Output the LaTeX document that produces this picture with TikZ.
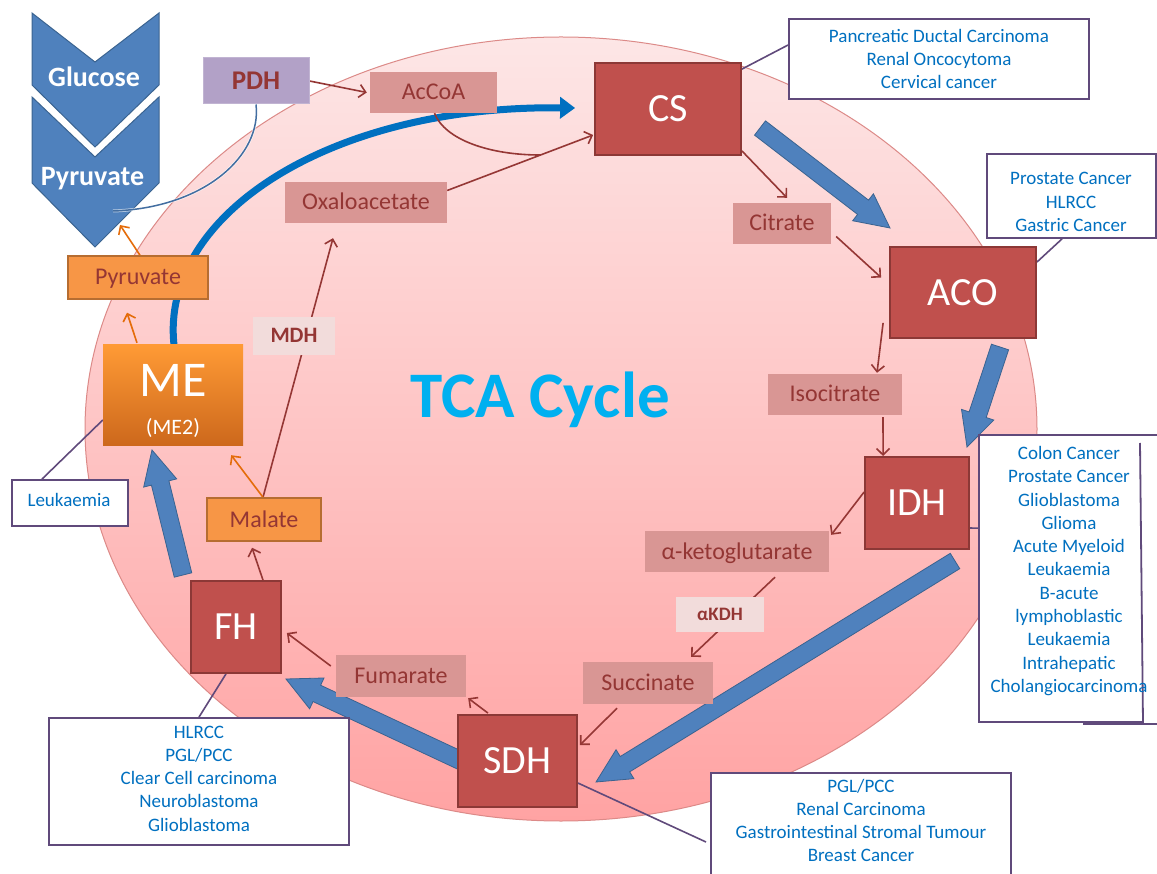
\documentclass[tikz,border=0pt]{standalone}
\usepackage{fontspec}
\setmainfont{Carlito}
\usetikzlibrary{calc,arrows.meta}
\pgfdeclarelayer{bg}\pgfdeclarelayer{lines}
\pgfsetlayers{bg,lines,main}
\definecolor{enzred}{HTML}{C0504D}
\definecolor{enzborder}{HTML}{8C3836}
\definecolor{metab}{HTML}{D99694}
\definecolor{metabtext}{HTML}{943634}
\definecolor{lightbox}{HTML}{F2DCDB}
\definecolor{orangefill}{HTML}{F79646}
\definecolor{orangeborder}{HTML}{B66D31}
\definecolor{orangearrow}{HTML}{E46C0A}
\definecolor{pdhfill}{HTML}{B2A1C7}
\definecolor{chevblue}{HTML}{4F81BD}
\definecolor{chevborder}{HTML}{3A6390}
\definecolor{cycleblue}{HTML}{0070C0}
\definecolor{tcablue}{HTML}{00B0F0}
\definecolor{calloutpurple}{HTML}{604A7B}
\definecolor{linered}{HTML}{953735}
\definecolor{ellTop}{HTML}{FDE6E6}
\definecolor{ellBot}{HTML}{FFA3A3}
\definecolor{ellBorder}{HTML}{DC8A88}
\definecolor{meTop}{HTML}{FF9A35}
\definecolor{meBot}{HTML}{CC681C}
\tikzset{
 enz/.style={draw=enzborder, line width=1.8pt, fill=enzred, text=white, font=\fontsize{40}{40}\selectfont, text height=25.5pt, text depth=0pt, inner sep=0pt},
 met/.style={fill=metab, text=metabtext, font=\fontsize{24}{24}\selectfont, text height=15pt, text depth=0pt, inner sep=0pt},
 orng/.style={fill=orangefill, draw=orangeborder, line width=1.5pt, text=metabtext, font=\fontsize{24}{24}\selectfont, text height=15pt, text depth=0pt, inner sep=0pt},
 lite/.style={fill=lightbox, text=metabtext, inner sep=0pt, text depth=0pt},
 pdhbox/.style={fill=pdhfill, draw=pdhfill!80!white, line width=1pt, text=metabtext, font=\bfseries\fontsize{27}{27}\selectfont, text height=17pt, text depth=0pt, inner sep=0pt},
 mebox/.style={top color=meTop, bottom color=meBot, draw=none, inner sep=0pt},
 callout/.style={draw=calloutpurple, line width=1.8pt, fill=white, inner sep=0pt},
 callouttext/.style={text=cycleblue, font=\fontsize{19}{23.3}\selectfont, align=center, inner sep=0pt},
 rline/.style={draw=linered, line width=1.6pt, -{Straight Barb[length=6.5pt,width=13pt]}},
 rplain/.style={draw=linered, line width=1.6pt},
 oline/.style={draw=orangearrow, line width=1.6pt, -{Straight Barb[length=6.5pt,width=13pt]}},
 pline/.style={draw=calloutpurple, line width=1.6pt},
 fatarrowstyle/.style={fill=chevblue, draw=chevborder, line width=0.8pt, line join=miter},
 chevron/.style={fill=chevblue, draw=chevborder, line width=1pt},
 chevtext/.style={text=white, font=\bfseries\fontsize{28}{28}\selectfont, text height=18pt, text depth=0pt, inner sep=0pt}
}
\newcommand\fatarrow[2]{%
 \coordinate (#1h) at ($(#2)!34pt!(#1)$);
 \filldraw[fatarrowstyle] ($(#1)!9pt!90:(#2)$) -- ($(#1h)!9pt!-90:(#1)$) -- ($(#1h)!17pt!-90:(#1)$) -- (#2) -- ($(#1h)!17pt!90:(#1)$) -- ($(#1h)!9pt!90:(#1)$) -- ($(#1)!9pt!-90:(#2)$) -- cycle;
}
\begin{document}
\begin{tikzpicture}[x=1pt,y=-1pt]
\useasboundingbox (0,0) rectangle (1157,874);
\clip (0,0) rectangle (1157,874);

\begin{pgfonlayer}{bg}
\path[top color=ellTop, bottom color=ellBot, draw=ellBorder, line width=1pt] (561,429) ellipse [x radius=476, y radius=392];
\filldraw[chevron] (32,13) -- (95,62) -- (159,13) -- (159,85) -- (95,147) -- (32,85) -- cycle;
\filldraw[chevron] (32,97) -- (95,157) -- (159,97) -- (159,183) -- (95,247) -- (32,183) -- cycle;
\end{pgfonlayer}

\node[chevtext] (glucose) at (94,77.5) {Glucose};
\node[chevtext] (pyrchev) at (92.5,176.5) {Pyruvate};
\coordinate (chevtip) at (120,225);
\coordinate (pdhend) at (113,211);

% enzymes
\node[enz, minimum width=146pt, minimum height=92pt] (cs) at (668,109) {CS};
\node[enz, minimum width=146pt, minimum height=91pt] (aco) at (963,292.5) {ACO};
\node[enz, minimum width=104pt, minimum height=92pt] (idh) at (917,503) {IDH};
\node[enz, minimum width=119pt, minimum height=92pt] (sdh) at (517.5,761) {SDH};
\node[enz, minimum width=90pt, minimum height=92pt] (fh) at (236,627) {FH};

% metabolites
\node[met, minimum width=127pt, minimum height=41pt] (accoa) at (433.5,92.5) {AcCoA};
\node[met, minimum width=98pt, minimum height=41pt] (citrate) at (782,223.5) {Citrate};
\node[met, minimum width=134pt, minimum height=41pt] (iso) at (835,394.5) {Isocitrate};
\node[met, minimum width=184pt, minimum height=41pt] (akg) at (737,551.5) {α-ketoglutarate};
\node[met, minimum width=130pt, minimum height=42pt] (succ) at (648,683) {Succinate};
\node[met, minimum width=130pt, minimum height=42pt] (fum) at (401,676) {Fumarate};
\node[met, minimum width=162pt, minimum height=41pt] (oxa) at (366,202.5) {Oxaloacetate};
\node[orng, minimum width=114pt, minimum height=43pt] (malate) at (264,519.5) {Malate};
\node[orng, minimum width=140pt, minimum height=43pt] (pyr) at (138,277.5) {Pyruvate};

\node[lite, minimum width=82pt, minimum height=38pt, font=\bfseries\fontsize{22}{22}\selectfont, text height=14pt] (mdh) at (294,336) {MDH};
\node[lite, minimum width=88pt, minimum height=35pt, font=\bfseries\fontsize{19}{19}\selectfont, text height=12pt] (akdh) at (720,614.5) {αKDH};

\node[pdhbox, minimum width=106pt, minimum height=46pt] (pdh) at (256,81) {PDH};

\node[mebox, minimum width=140pt, minimum height=101pt] (me) at (173,395.5) {};
\node[text=white, font=\fontsize{50}{50}\selectfont, inner sep=0pt, text height=32pt, text depth=0pt] (metitle) at (173,381) {ME};
\node[text=white, font=\fontsize{22}{22}\selectfont, inner sep=0pt] (mesub) at (173,428) {(ME2)};

\node[text=tcablue, font=\bfseries\fontsize{65}{65}\selectfont, inner sep=0pt, text height=41pt, text depth=0pt] (tca) at (540,397.5) {TCA Cycle};

% callouts
\node[callout, minimum width=300pt, minimum height=80pt] (box1) at (939,59) {};
\node[callouttext] (box1t) at (939,59) {Pancreatic Ductal Carcinoma\\Renal Oncocytoma\\Cervical cancer};
\node[callout, minimum width=169pt, minimum height=84pt] (box2) at (1071.5,196) {};
\node[callouttext] (box2t) at (1071,202) {Prostate Cancer\\HLRCC\\Gastric Cancer};
\node[fill=white, inner sep=0pt, minimum width=164pt, minimum height=287pt, anchor=north west] (box3) at (979,435) {};
\draw[pline, line width=1.8pt] (1157,435) -- (979,435) -- (979,722) -- (1143,722);
\draw[pline, line width=1.8pt] (1140,443) -- (1143,723);
\draw[pline, line width=1.8pt] (1083,724) -- (1157,724);
\node[callouttext] (box3t) at (1069,571) {Colon Cancer\\Prostate Cancer\\Glioblastoma\\Glioma\\Acute Myeloid\\Leukaemia\\B-acute\\lymphoblastic\\Leukaemia\\Intrahepatic\\Cholangiocarcinoma};
\node[callout, minimum width=116pt, minimum height=46pt] (leuk) at (70,503) {};
\node[callouttext] (leukt) at (69,499.5) {Leukaemia};
\node[callout, minimum width=300pt, minimum height=127pt] (box4) at (199,781.5) {};
\node[callouttext] (box4t) at (199,778.6) {HLRCC\\PGL/PCC\\Clear Cell carcinoma\\Neuroblastoma\\Glioblastoma};
\node[callout, minimum width=300pt, minimum height=130pt, anchor=north west] (box5) at (710,772) {};
\node[callouttext] (box5t) at (861,820.5) {PGL/PCC\\Renal Carcinoma\\Gastrointestinal Stromal Tumour\\Breast Cancer};

\begin{pgfonlayer}{lines}
% thick blue cycle arrow
\draw[cycleblue, line width=7pt, -{Triangle[length=15pt,width=21pt]}] ($(me.north)+(1,0)$) .. controls (160,215) and (330,105) .. ($(cs.west)+(-19,-1)$);
% fat arrows
\coordinate (f1s) at (760,128); \coordinate (f1e) at (890,228);
\coordinate (f2s) at (1000,347); \coordinate (f2e) at (967,447);
\coordinate (f3s) at (955,561); \coordinate (f3e) at (596,782);
\coordinate (f4s) at (470,765); \coordinate (f4e) at (286,679);
\coordinate (f5s) at (183,575); \coordinate (f5e) at (152,450);
\fatarrow{f1s}{f1e}
\fatarrow{f2s}{f2e}
\fatarrow{f3s}{f3e}
\fatarrow{f4s}{f4e}
\fatarrow{f5s}{f5e}
% red connectors
\coordinate (merge) at (540,155);
\draw[rline] (pdh.east) -- ($(accoa.west)+(-3,0)$);
\draw[rplain] ($(accoa.south)+(1,0)$) .. controls (445,140) and (490,155) .. (merge);
\draw[rline] ($(oxa.east)+(0,-12)$) -- ($(cs.west)+(-1,26)$);
\draw[rline] ($(cs.south east)+(0,-5)$) -- ($(citrate.north)+(5,-5)$);
\draw[rline] ($(citrate.east)+(5,13)$) -- ($(aco.west)+(-8,-15)$);
\draw[rline] ($(aco.south west)+(-6,-16)$) -- ($(iso.north)+(42,-1)$);
\draw[rline] ($(iso.south)+(48,2)$) -- ($(idh.north west)+(19,0)$);
\draw[rline] ($(idh.west)+(0,-11)$) -- ($(akg.north east)+(2,4)$);
\draw[rline] ($(akg.south)+(38,5)$) -- ($(succ.north)+(43,-5)$);
\draw[rline] ($(succ.south)+(-31,4)$) -- ($(sdh.east)+(2,-16)$);
\draw[rline] ($(sdh.north)+(-29.5,-1)$) -- ($(fum.south east)+(2,1)$);
\draw[rline] ($(fum.west)+(-5,-10)$) -- ($(fh.east)+(5,6)$);
\draw[rline] ($(fh.north)+(27,0)$) -- ($(malate.south)+(-12,6)$);
\draw[rline] ($(malate.north)+(-1,0)$) -- ($(oxa.south)+(-33,15)$);
% orange connectors
\draw[oline] ($(malate.north)+(-1,0)$) -- ($(me.south east)+(-12,9)$);
\draw[oline] ($(me.north)+(-36,-2)$) -- ($(pyr.south)+(-11,13)$);
\draw[oline] ($(pyr.north)+(2,0)$) -- (chevtip);
% PDH curve
\draw[white, opacity=0.6, line width=3pt] (pdh.south) .. controls (262,155) and (205,208) .. (pdhend);
\draw[chevblue!85!black, line width=1.5pt] (pdh.south) .. controls (262,155) and (205,208) .. (pdhend);
% callout connectors
\draw[pline] ($(cs.north east)+(0,7)$) -- ($(box1.west)+(0,-14)$);
\draw[pline] ($(aco.north east)+(0,16)$) -- ($(box2.south)+(-9.5,0)$);
\draw[pline] ($(idh.east)+(0,25)$) -- ($(box3.west)+(0,-50.5)$);
\draw[pline] ($(me.west)+(0,24.5)$) -- ($(leuk.north)+(-28,0)$);
\draw[pline] ($(fh.south)+(-10,0)$) -- (box4.north);
\draw[pline] ($(sdh.east)+(0,22)$) -- ($(box5.north west)+(-4,70)$);
\end{pgfonlayer}
\end{tikzpicture}
\end{document}
